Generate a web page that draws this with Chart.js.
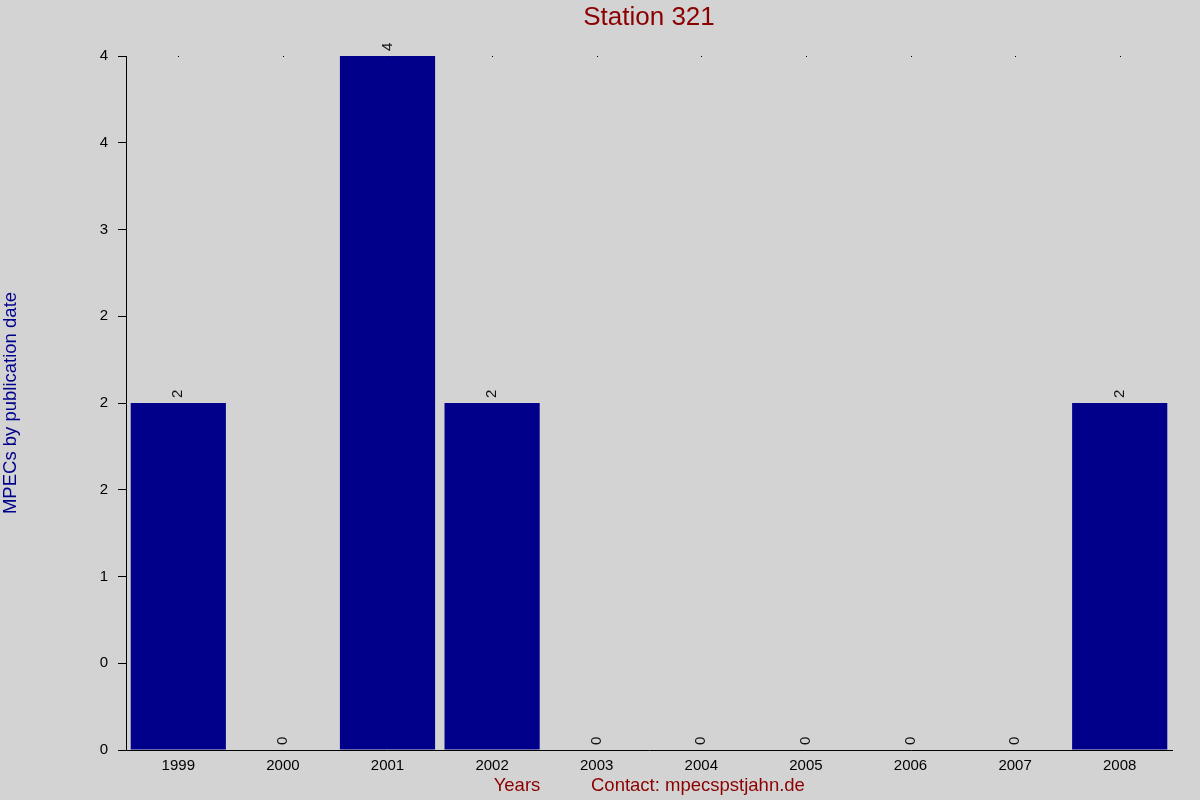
<!DOCTYPE html>
<html>
<head>
<meta charset="utf-8">
<script src="https://cdn.jsdelivr.net/npm/chart.js@4/dist/chart.umd.min.js"></script>
<style>
    html, body { margin: 0; padding: 0; background: #d3d3d3; }
    #wrap { width: 1200px; height: 800px; }
</style>
</head>
<body>
<div id="wrap"><canvas id="mpecChart"></canvas></div>
<script>
// Chart data
const years = ['1999', '2000', '2001', '2002', '2003', '2004', '2005', '2006', '2007', '2008'];
const mpecCounts = [2, 0, 4, 2, 0, 0, 0, 0, 0, 2];
const yTickLabels = ['0', '0', '1', '2', '2', '2', '3', '4', '4'];

const chartTitle = 'Station 321';
const yAxisTitle = 'MPECs by publication date';
const xAxisTitle = 'Years';
const contactText = 'Contact: mpecspstjahn.de';

const FONT = '"Liberation Sans", Arial, sans-serif';

// Draws title, axis texts, value labels and top dots
const annotatePlugin = {
    id: 'annotate',
    afterDatasetsDraw(chart) {
        const ctx = chart.ctx;
        const area = chart.chartArea;
        const meta = chart.getDatasetMeta(0);

        ctx.save();

        // small dots along the top of the plot
        ctx.fillStyle = '#000000';
        meta.data.forEach(bar => {
            ctx.fillRect(Math.round(bar.x), area.top, 1, 1);
        });

        // rotated value labels above bars
        ctx.font = '15px ' + FONT;
        ctx.fillStyle = '#111111';
        ctx.textAlign = 'left';
        ctx.textBaseline = 'middle';
        meta.data.forEach((bar, i) => {
            ctx.save();
            ctx.translate(bar.x, bar.y - 5);
            ctx.rotate(-Math.PI / 2);
            ctx.fillText(String(mpecCounts[i]), 0, 0);
            ctx.restore();
        });

        // title
        ctx.font = '26px ' + FONT;
        ctx.fillStyle = '#8b0000';
        ctx.textAlign = 'center';
        ctx.textBaseline = 'middle';
        ctx.fillText(chartTitle, (area.left + area.right) / 2, 18);

        // bottom texts
        ctx.font = '18.5px ' + FONT;
        ctx.fillText(xAxisTitle, 517, 786);
        ctx.textAlign = 'left';
        ctx.fillText(contactText, 591, 786);

        // y axis title
        ctx.fillStyle = '#00008b';
        ctx.textAlign = 'center';
        ctx.translate(11, (area.top + area.bottom) / 2);
        ctx.rotate(-Math.PI / 2);
        ctx.fillText(yAxisTitle, 0, 0);

        ctx.restore();
    }
};

const ctx = document.getElementById('mpecChart').getContext('2d');

new Chart(ctx, {
    type: 'bar',
    data: {
        labels: years,
        datasets: [{
            data: mpecCounts,
            backgroundColor: '#00008b',
            borderWidth: 0,
            barPercentage: 0.91,
            categoryPercentage: 1.0
        }]
    },
    options: {
        responsive: true,
        maintainAspectRatio: false,
        animation: false,
        layout: {
            padding: { top: 56, right: 28, left: 0, bottom: 0 }
        },
        plugins: {
            legend: { display: false },
            tooltip: { enabled: false },
            title: { display: false }
        },
        scales: {
            x: {
                afterFit: scale => { scale.height = 50; },
                grid: { display: false, drawTicks: false },
                border: { display: true, color: '#000000', width: 1 },
                ticks: {
                    color: '#000000',
                    padding: 7,
                    maxRotation: 0,
                    font: { family: FONT, size: 15 }
                }
            },
            y: {
                min: 0,
                max: 4,
                afterFit: scale => { scale.width = 126; },
                grid: {
                    drawOnChartArea: false,
                    drawTicks: true,
                    tickLength: 8,
                    color: '#000000'
                },
                border: { display: true, color: '#000000', width: 1 },
                ticks: {
                    stepSize: 0.5,
                    color: '#000000',
                    padding: 10,
                    font: { family: FONT, size: 15 },
                    callback: (value, index) => yTickLabels[index]
                }
            }
        }
    },
    plugins: [annotatePlugin]
});
</script>
</body>
</html>
